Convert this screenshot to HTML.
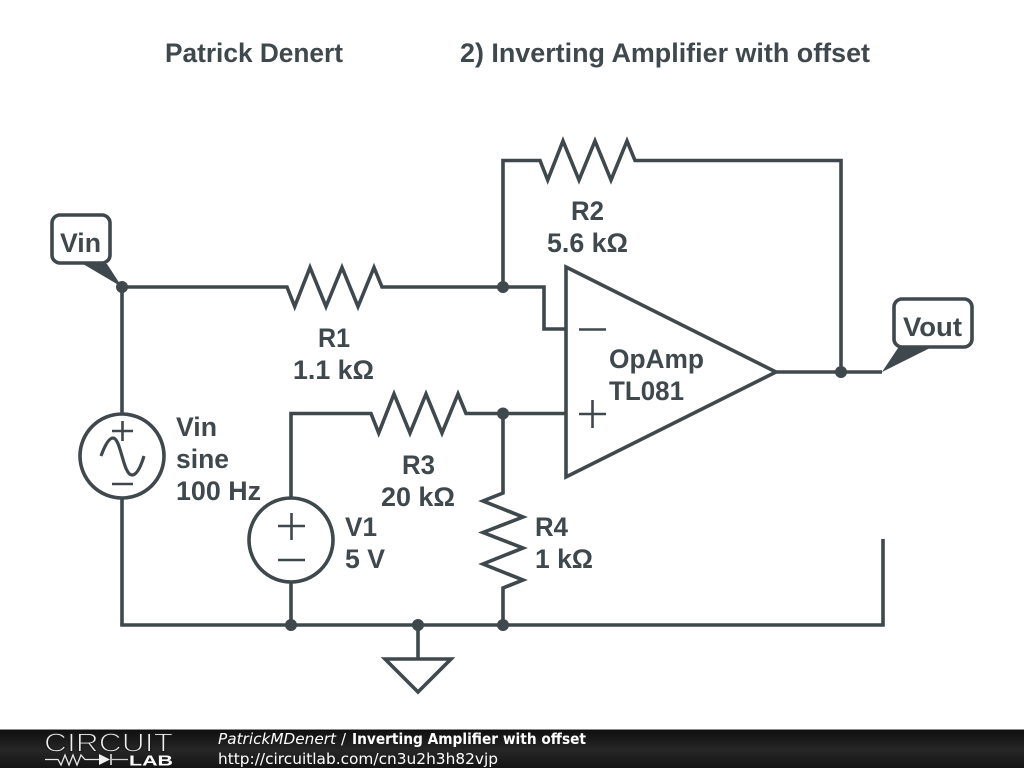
<!DOCTYPE html>
<html>
<head>
<meta charset="utf-8">
<style>
html,body{margin:0;padding:0;background:#fff;}
svg{display:block;}
.w{fill:none;stroke:#3f484d;stroke-width:3.6;stroke-linejoin:miter;stroke-linecap:butt;}
.t{fill:none;stroke:#3f484d;stroke-width:2.6;}
.d{fill:#3f484d;}
.l{font-family:"Liberation Sans",sans-serif;font-weight:bold;font-size:26.5px;fill:#3f484d;}
.f{font-family:"DejaVu Sans",sans-serif;font-size:15px;fill:#fff;}
</style>
</head>
<body>
<svg width="1024" height="768" viewBox="0 0 1024 768" xmlns="http://www.w3.org/2000/svg">
<defs>
<linearGradient id="bar" x1="0" y1="0" x2="0" y2="1">
<stop offset="0" stop-color="#0f0f0f"/><stop offset="0.55" stop-color="#262626"/><stop offset="1" stop-color="#141414"/>
</linearGradient>
</defs>
<rect width="1024" height="768" fill="#fff"/>

<text class="l" x="165" y="62" textLength="178" lengthAdjust="spacingAndGlyphs">Patrick Denert</text>
<text class="l" x="460" y="62" textLength="410" lengthAdjust="spacingAndGlyphs">2) Inverting Amplifier with offset</text>

<!-- Top feedback with R2 -->
<polyline class="w" points="503,287 503,160.5 540,160.5 547.7,180 563,141 579,180 595,141 611,180 627,141 635,160.5 841,160.5 841,372"/>
<!-- R1 -->
<polyline class="w" points="122,287 287,287 294.7,306.5 310,267.5 326,306.5 342,267.5 358,306.5 374,267.5 382,287 544,287 544,329 566,329"/>
<!-- R3 -->
<polyline class="w" points="291,498 291,413.5 371,413.5 378.7,433 394,394 410,433 426,394 442,433 458,394 466,413.5 566,413.5"/>
<!-- R4 -->
<polyline class="w" points="503,413.5 503,493 483,501 523,517 483,532.5 523,548 483,564 523,580 503,588 503,625"/>
<!-- Vin wires -->
<line class="w" x1="122" y1="287" x2="122" y2="414"/>
<line class="w" x1="122" y1="499" x2="122" y2="625"/>
<!-- Bottom wire -->
<polyline class="w" points="120.2,625 883,625 883,539"/>
<line class="w" x1="291" y1="582" x2="291" y2="625"/>
<!-- Ground -->
<line class="w" x1="418" y1="625" x2="418" y2="659"/>
<polygon class="w" points="385,659 418,692 451,659" stroke-linejoin="round"/>

<!-- Op amp -->
<polygon class="w" points="566,267 776,372 566,477"/>
<line class="t" x1="579" y1="329.5" x2="606" y2="329.5"/>
<line class="t" x1="579" y1="414" x2="606" y2="414"/>
<line class="t" x1="592.5" y1="400" x2="592.5" y2="428"/>
<!-- Output -->
<polyline class="w" points="776,372 882,372"/>

<!-- Vin source -->
<circle class="w" cx="122" cy="456" r="42"/>
<line class="t" x1="112" y1="431" x2="133" y2="431"/>
<line class="t" x1="122.5" y1="421" x2="122.5" y2="441"/>
<line class="t" x1="112" y1="484" x2="133" y2="484"/>
<path class="w" style="stroke-width:3.2" d="M101,456 C105,445 109,438 113,438 C121,438 123,475 132,475 C137,475 141,466 144,456" stroke-linecap="round"/>

<!-- V1 source -->
<circle class="w" cx="291" cy="540" r="42"/>
<line class="t" x1="278" y1="526" x2="305" y2="526"/>
<line class="t" x1="291.5" y1="513" x2="291.5" y2="540"/>
<line class="t" x1="278" y1="560" x2="305" y2="560"/>

<!-- Dots -->
<circle class="d" cx="122" cy="287" r="6"/>
<circle class="d" cx="503" cy="287" r="6"/>
<circle class="d" cx="503" cy="413.5" r="6"/>
<circle class="d" cx="841" cy="372" r="6"/>
<circle class="d" cx="291" cy="625" r="6"/>
<circle class="d" cx="418" cy="625" r="6"/>
<circle class="d" cx="503" cy="625" r="6"/>

<!-- Vin tag -->
<polygon class="d" points="83,264 107,264 122,287"/>
<rect x="52" y="215" width="58" height="48" rx="8" ry="8" fill="#fff" stroke="#3f484d" stroke-width="3.6"/>
<text class="l" x="60" y="252" textLength="41" lengthAdjust="spacingAndGlyphs">Vin</text>

<!-- Vout tag -->
<polygon class="d" points="898,348 930,348 882,372"/>
<rect x="894" y="299" width="78" height="48" rx="8" ry="8" fill="#fff" stroke="#3f484d" stroke-width="3.6"/>
<text class="l" x="903" y="336" textLength="59" lengthAdjust="spacingAndGlyphs">Vout</text>

<!-- Labels -->
<text class="l" x="571" y="220" textLength="33" lengthAdjust="spacingAndGlyphs">R2</text>
<text class="l" x="547" y="252" textLength="81" lengthAdjust="spacingAndGlyphs">5.6 kΩ</text>
<text class="l" x="318" y="347" textLength="32" lengthAdjust="spacingAndGlyphs">R1</text>
<text class="l" x="293" y="379" textLength="81" lengthAdjust="spacingAndGlyphs">1.1 kΩ</text>
<text class="l" x="402" y="474" textLength="33" lengthAdjust="spacingAndGlyphs">R3</text>
<text class="l" x="381" y="506" textLength="74" lengthAdjust="spacingAndGlyphs">20 kΩ</text>
<text class="l" x="535" y="536" textLength="33" lengthAdjust="spacingAndGlyphs">R4</text>
<text class="l" x="535" y="568" textLength="58" lengthAdjust="spacingAndGlyphs">1 kΩ</text>
<text class="l" x="345" y="536" textLength="32" lengthAdjust="spacingAndGlyphs">V1</text>
<text class="l" x="345" y="568" textLength="40" lengthAdjust="spacingAndGlyphs">5 V</text>
<text class="l" x="176" y="436" textLength="41" lengthAdjust="spacingAndGlyphs">Vin</text>
<text class="l" x="176" y="468" textLength="53" lengthAdjust="spacingAndGlyphs">sine</text>
<text class="l" x="176" y="500" textLength="85" lengthAdjust="spacingAndGlyphs">100 Hz</text>
<text class="l" x="609" y="368" textLength="95" lengthAdjust="spacingAndGlyphs">OpAmp</text>
<text class="l" x="609" y="400" textLength="75" lengthAdjust="spacingAndGlyphs">TL081</text>

<!-- Footer -->
<rect x="0" y="729" width="1024" height="39" fill="url(#bar)"/>
<line x1="0" y1="729.5" x2="1024" y2="729.5" stroke="#8a8a8a" stroke-width="1"/>
<text x="44" y="751.5" font-family="'Liberation Sans',sans-serif" font-size="26" fill="#f0f0f0" stroke="#1b1b1b" stroke-width="1.1" textLength="129" lengthAdjust="spacingAndGlyphs">CIRCUIT</text>
<polyline points="45,759.5 58,759.5 61,765 65,755 69,765 73,755 77,765 81,755 85,759.5 99,759.5" fill="none" stroke="#e8e8e8" stroke-width="1.3"/>
<polygon points="99,754 99,765 110,759.5" fill="#f0f0f0"/>
<line x1="111" y1="754" x2="111" y2="765" stroke="#f0f0f0" stroke-width="1.5"/>
<line x1="111" y1="759.5" x2="128" y2="759.5" stroke="#d0d0d0" stroke-width="1.3"/>
<text x="129" y="765.5" font-family="'Liberation Sans',sans-serif" font-size="14.5" font-weight="bold" fill="#fff" textLength="44" lengthAdjust="spacingAndGlyphs">LAB</text>
<text class="f" x="218" y="744" font-style="italic" textLength="118" lengthAdjust="spacingAndGlyphs">PatrickMDenert</text>
<text class="f" x="341" y="744">/</text>
<text class="f" x="352" y="744" font-weight="bold" textLength="234" lengthAdjust="spacingAndGlyphs">Inverting Amplifier with offset</text>
<text class="f" x="218" y="764" textLength="280" lengthAdjust="spacingAndGlyphs">http://circuitlab.com/cn3u2h3h82vjp</text>
</svg>
</body>
</html>
